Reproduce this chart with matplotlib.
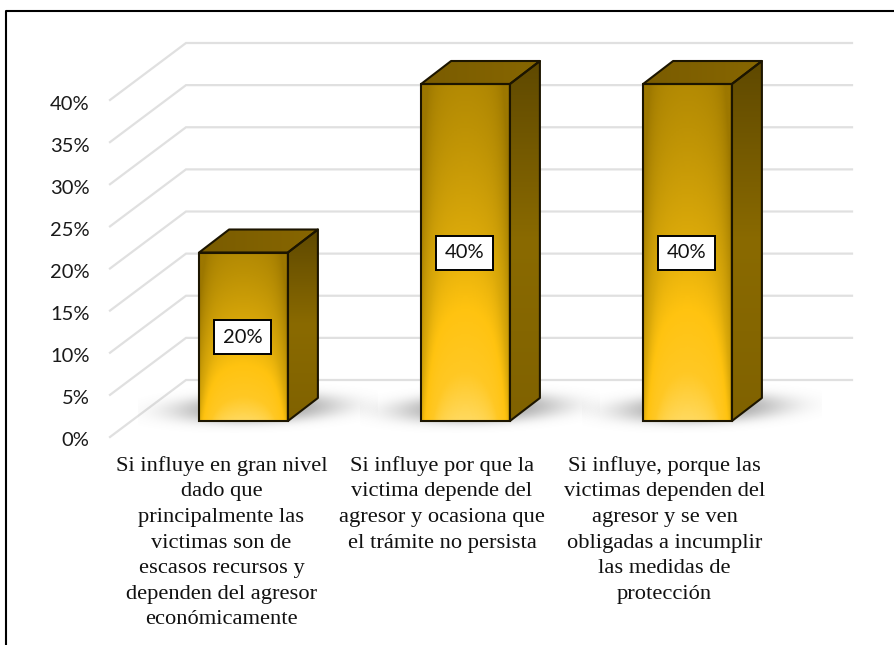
import numpy as np
import matplotlib
matplotlib.use('Agg')
import matplotlib.pyplot as plt
from matplotlib.colors import LinearSegmentedColormap
from matplotlib.lines import Line2D
from matplotlib.patches import Polygon, Rectangle

# Datos
categorias = [
    'Si influye en gran nivel\ndado que\nprincipalmente las\nvictimas son de\nescasos recursos y\ndependen del agresor\neconómicamente',
    'Si influye por que la\nvictima depende del\nagresor y ocasiona que\nel trámite no persista',
    'Si influye, porque las\nvictimas dependen del\nagresor y se ven\nobligadas a incumplir\nlas medidas de\nprotección',
]
valores = [20, 40, 40]
etiquetas = ['20%', '40%', '40%']
ticks = [0, 5, 10, 15, 20, 25, 30, 35, 40]

W, H = 895, 645
fig = plt.figure(figsize=(W / 100, H / 100), dpi=100)

# Ejes del tamaño de la figura, con escala en el plano frontal de las barras
x_left, x_right = 132.5, 798.5   # pixeles de la categoria -0.5 y 2.5
y0, y40 = 421.0, 84.0            # pixeles del valor 0 y 40
px_x = 3 / (x_right - x_left)    # unidades de categoria por pixel
px_y = 40 / (y0 - y40)           # unidades de valor por pixel
xlim = (-0.5 - x_left * px_x, -0.5 + (W - x_left) * px_x)
ylim = (-(H - y0) * px_y, y0 * px_y)

ax = fig.add_axes([0, 0, 1, 1])
ax.axis('off')


def off(x, y, dx, dy):
    # desplaza un punto en pixeles de pantalla
    return x + dx * px_x, y + dy * px_y


# Paredes: lineas de grid
grid_col = '#e0e0e0'
for t in ticks:
    x1, y1 = off(-0.5, t, -22.5, -16)
    x2, y2 = off(-0.5, t, 53.5, 41)
    x3, y3 = off(2.5, t, 53.5, 41)
    ax.plot([x1, x2, x3], [y1, y2, y3], color=grid_col, lw=1.6,
            solid_joinstyle='miter', zorder=1)

# Sombra de cada barra sobre el piso
yy, xx = np.mgrid[-1:1:120j, -1:1:300j]
sombra = np.exp(-(((xx + 0.2 * yy) ** 2) * 2.2 + yy ** 2 * 2.8) ** 1.5)
sombra_rgba = np.zeros(sombra.shape + (4,))
sombra_rgba[..., :3] = 0.5
sombra_rgba[..., 3] = sombra * 0.7
for i in range(len(valores)):
    x1, y1 = off(i, 0, -105, -12)
    x2, y2 = off(i, 0, 135, 38)
    ax.imshow(sombra_rgba, extent=[x1, x2, y1, y2], aspect='auto', zorder=2,
              interpolation='bilinear')

# Colores de las caras
cm_frente = LinearSegmentedColormap.from_list('frente', [
    (0.0, '#9c7700'), (0.3, '#bd9205'), (0.55, '#dcaa0a'),
    (0.72, '#ffc310'), (0.88, '#ffc824'), (1.0, '#ffd95e')])
cm_lado = LinearSegmentedColormap.from_list('lado', ['#5f4900', '#8a6a00', '#806200'])
cm_arriba = LinearSegmentedColormap.from_list('arriba', ['#7a5c00', '#876600'])

ancho = 0.4
dx, dy = 30, 23   # profundidad de la barra en pixeles
borde = '#1c1500'

for i, v in enumerate(valores):
    xl, xr = i - ancho / 2, i + ancho / 2

    # cara frontal
    u = np.linspace(-1, 1, 120)
    s = np.linspace(0, 1, 200)
    uu, ss = np.meshgrid(u, s)
    cara = 0.22 + 0.78 * ss ** 1.1 - 0.3 * np.abs(uu) ** 6 - 0.14 * np.abs(uu) ** 2
    ax.imshow(np.clip(cara, 0, 1), cmap=cm_frente, vmin=0, vmax=1,
              origin='upper', extent=[xl, xr, 0, v], aspect='auto', zorder=3)

    # cara lateral
    p_lado = [(xr, 0), off(xr, 0, dx, dy), off(xr, v, dx, dy), (xr, v)]
    grad = np.linspace(0, 1, 200).reshape(-1, 1)
    ex, _ = off(xr, 0, dx, 0)
    _, top = off(xr, v, dx, dy)
    im_lado = ax.imshow(grad, cmap=cm_lado, origin='upper', aspect='auto',
                        extent=[xr, ex, 0, top], zorder=3)
    poly = Polygon(p_lado, closed=True, fc='none', ec=borde, lw=1.5, zorder=4,
                   joinstyle='round')
    ax.add_patch(poly)
    im_lado.set_clip_path(poly)

    # cara superior
    p_top = [(xl, v), (xr, v), off(xr, v, dx, dy), off(xl, v, dx, dy)]
    _, top2 = off(xl, v, dx, dy)
    ex2, _ = off(xr, v, dx, dy)
    grad2 = np.linspace(0, 1, 60).reshape(1, -1)
    im_top = ax.imshow(grad2, cmap=cm_arriba, aspect='auto',
                       extent=[xl, ex2, v, top2], zorder=3)
    poly2 = Polygon(p_top, closed=True, fc='none', ec=borde, lw=1.5, zorder=4,
                    joinstyle='round')
    ax.add_patch(poly2)
    im_top.set_clip_path(poly2)

    ax.add_patch(Rectangle((xl, 0), ancho, v, fc='none', ec=borde, lw=1.5, zorder=4))

    # etiqueta del valor
    ax.text(i - 0.005, v / 2 - 0.05, etiquetas[i], ha='center', va='center',
            family='Lato', fontsize=14.5, color='#111111', zorder=6,
            bbox=dict(boxstyle='square,pad=0.42', fc='white', ec='black', lw=1.4))

# Marcas del eje y
for t in ticks:
    x, y = off(-0.5, t, -43, -20)
    ax.text(x, y, f'{t}%', ha='right', va='center', family='Lato', fontsize=14.5,
            color='#1a1a1a')

# Etiquetas de categoria
for i, c in enumerate(categorias):
    x, y = off(i, 0, [-22, -23.5, -23][i], -35)
    ax.text(x, y, c, ha='center', va='top', family='Liberation Serif', fontsize=16.2,
            linespacing=1.47, color='#111111')

ax.set_xlim(*xlim)
ax.set_ylim(*ylim)

# Marco exterior: solo arriba y a la izquierda
fig.add_artist(Line2D([6.5 / W, 6.5 / W, 1],
                      [0, 1 - 11 / H, 1 - 11 / H],
                      color='black', lw=1.5, transform=fig.transFigure))

fig.savefig('out.png', dpi=100, facecolor='white')
